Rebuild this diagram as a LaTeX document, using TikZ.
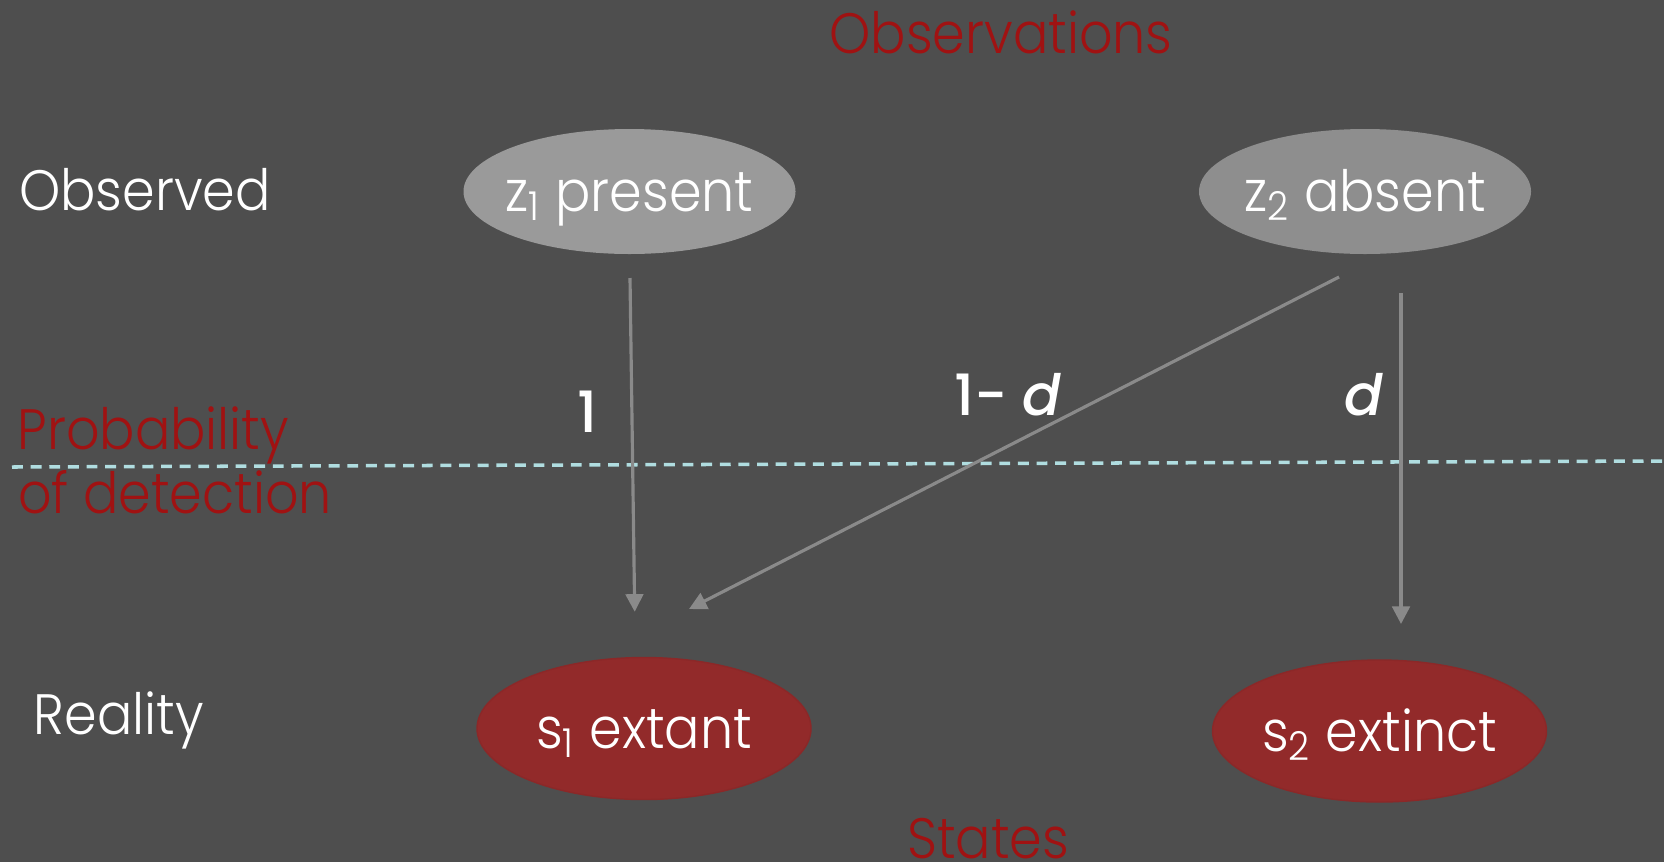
\documentclass[tikz,border=0pt]{standalone}
\usepackage{fontspec}
\setmainfont{Poppins}[UprightFont=* Light, FakeStretch=0.92]
\newfontfamily\labelfont{Poppins}[UprightFont=* Medium, ItalicFont=* Medium Italic]
\usetikzlibrary{shapes,arrows.meta,positioning}
\usepackage{xcolor}

\definecolor{slide}{RGB}{78,78,78}
\definecolor{titlered}{RGB}{160,18,18}
\definecolor{extantred}{RGB}{146,42,42}
\definecolor{obsgray}{RGB}{154,154,154}
\definecolor{obsgraydark}{RGB}{142,142,142}
\definecolor{arrowgray}{RGB}{138,138,138}
\definecolor{cutblue}{RGB}{176,221,224}
\newcommand\slidesize{\fontsize{16.2}{19}\selectfont}
\newcommand\nowide[1]{\makebox[0pt]{\raisebox{-0.2cm}[0pt][0pt]{#1}}}

\begin{document}
\begin{tikzpicture}[
    every node/.style={font=\slidesize},
    obs/.style={ellipse, minimum width=3.32cm, minimum height=1.25cm,
                inner sep=0pt, text=white},
    state/.style={ellipse, fill=extantred, draw=extantred!95!black,
                  minimum width=3.34cm, minimum height=1.42cm,
                  inner sep=0pt, text=white},
    rowlabel/.style={anchor=base west, inner sep=0pt, text=white},
    heading/.style={anchor=base, inner sep=0pt, text=titlered},
    prob/.style={anchor=base west, inner sep=0pt, text=white,
                 font=\slidesize\labelfont},
    link/.style={-{Triangle[length=5pt,width=5pt]}, line width=0.9pt,
                 arrowgray},
    cut/.style={dash pattern=on 3.1pt off 2.2pt, line width=1pt, cutblue},
]

% Slide background
\fill[slide] (0,0) rectangle (16.64,8.62);
\useasboundingbox (0,0) rectangle (16.64,8.62);

% Headings
\node[heading] (observations) at (10.01, 8.09) {Observations};
\node[heading] (states) at (9.88, 0.04) {States};
\node[rowlabel] (observed) at (0.185, 6.52) {Observed};
\node[rowlabel] (reality) at (0.33, 1.28) {Reality};
\node[rowlabel, text=titlered] (probability) at (0.17, 4.13) {Probability};
\node[rowlabel, text=titlered] (detection) at (0.175, 3.49) {of detection};

% Divider
\coordinate (cutL) at (0.12, 3.95);
\coordinate (cutR) at (16.64, 4.01);
\draw[cut] (cutL) -- (cutR);

% Observations and states
\node[obs, fill=obsgray] (z1) at (6.295, 6.705) {\nowide{z\textsubscript{1} present}};
\node[obs, fill=obsgraydark] (z2) at (13.65, 6.705) {\nowide{z\textsubscript{2} absent}};
\node[state] (s1) at (6.44, 1.335) {\nowide{s\textsubscript{1} extant}};
\node[state] (s2) at (13.795, 1.31) {\nowide{s\textsubscript{2} extinct}};

% Arrow ends
\coordinate (z1out) at (6.30, 5.84);
\coordinate (z2outA) at (13.39, 5.85);
\coordinate (z2outB) at (14.01, 5.69);
\coordinate (s1inA) at (6.347, 2.503);
\coordinate (s1inB) at (6.89, 2.53);
\coordinate (s2in) at (14.01, 2.38);

\draw[link] (z1out) -- (s1inA);
\draw[link] (z2outA) -- (s1inB);
\draw[link] (z2outB) -- (s2in);

% Probabilities
\node[prob] (p1) at (5.77, 4.30) {1};
\node[prob] (p1d) at (9.54, 4.47) {1- \textit{d}};
\node[prob] (pd) at (13.44, 4.47) {\textit{d}};

\end{tikzpicture}
\end{document}
